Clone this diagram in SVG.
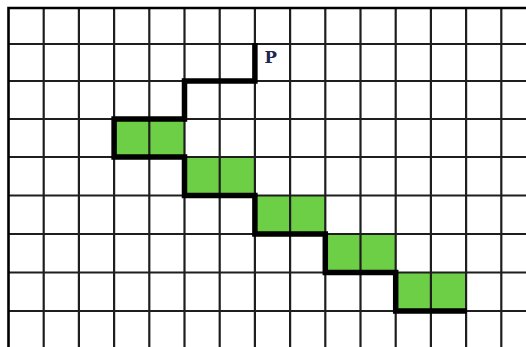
<svg xmlns="http://www.w3.org/2000/svg" width="526" height="347" viewBox="0 0 526 347">
<style>
.g{stroke:#1e1e1e;stroke-width:2.2;fill:none}
.b{stroke:#000;stroke-width:2.6;fill:none}
.c{fill:#6ccf45}
.p{fill:none;stroke:#000;stroke-width:5.5;stroke-linejoin:miter;stroke-linecap:butt}
.t{font-family:"DejaVu Serif","Liberation Serif",serif;font-weight:bold;font-size:16.5px;fill:#1c2850}
</style>
<rect width="526" height="347" fill="#fff"/>
<g id="cells">
<rect class="c" x="114.1" y="119" width="70.4" height="38"/>
<rect class="c" x="184.5" y="157" width="70.4" height="38.5"/>
<rect class="c" x="254.9" y="195.5" width="70.4" height="38.5"/>
<rect class="c" x="325.3" y="234" width="70.4" height="38.5"/>
<rect class="c" x="395.7" y="272.5" width="70.4" height="38.5"/>
</g>
<g id="grid">
<path class="g" d="M43.7 8V347M78.9 8V347M114.1 8V347M149.3 8V347M184.5 8V347M219.7 8V347M254.9 8V347M290.1 8V347M325.3 8V347M360.5 8V347M395.7 8V347M430.9 8V347M466.1 8V347M501.3 8V347"/>
<path class="g" d="M8.5 44H526M8.5 81H526M8.5 119H526M8.5 157H526M8.5 195.5H526M8.5 234H526M8.5 272.5H526M8.5 311H526"/>
<path class="b" d="M8.5 347V8H526"/>
</g>
<g id="connectors">
<path class="p" d="M254.9 43V81H184.5V119H114.1V157H184.5V195.5H254.9V234H325.3V272.5H395.7V311H467"/>
</g>
<g id="label-P">
<text class="t" x="264.5" y="63">P</text>
</g>
</svg>
